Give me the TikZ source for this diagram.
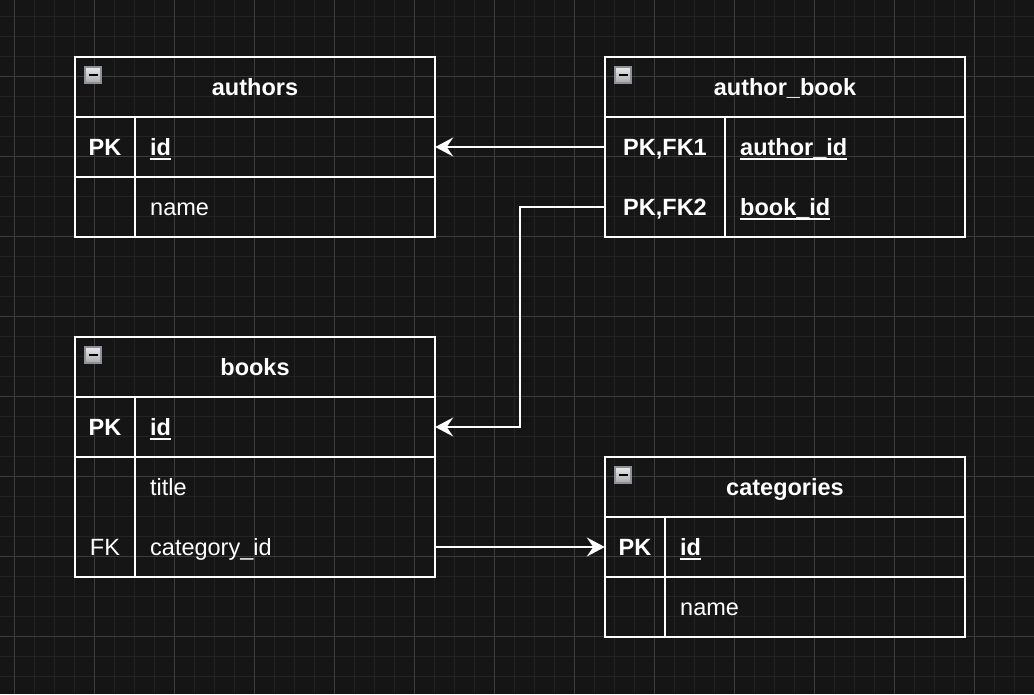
\documentclass[tikz,border=0pt]{standalone}
\usepackage{fontspec}
\setmainfont{Liberation Sans}
\usetikzlibrary{arrows.meta}
\definecolor{bg}{HTML}{151515}
\definecolor{gridminor}{HTML}{232323}
\definecolor{gridmajor}{HTML}{3C3C3C}
\definecolor{iconedge}{HTML}{8A909C}
\definecolor{icontop}{HTML}{EAEAEA}
\definecolor{iconbot}{HTML}{A8A8A8}
\newcommand{\ulx}[1]{\setbox0\hbox{#1}\rlap{\rule[-4.5pt]{\wd0}{2pt}}\box0}
\tikzset{
  ln/.style={white, line width=2pt},
  tbl/.style={draw=white, line width=2pt, rectangle, inner sep=0pt},
  rowbox/.style={rectangle, inner sep=0pt, minimum height=60pt, minimum width=360pt, draw=none},
  txt/.style={text=white, inner sep=0pt, font=\fontsize{23.5}{28}\selectfont},
  hd/.style={txt, anchor=base, font=\fontsize{23.5}{28}\selectfont\bfseries},
  keyb/.style={txt, anchor=base, font=\fontsize{23.5}{28}\selectfont\bfseries},
  keyr/.style={txt, anchor=base},
  fldb/.style={txt, anchor=base west, font=\fontsize{23.5}{28}\selectfont\bfseries},
  fldr/.style={txt, anchor=base west},
  icon/.style={rectangle, minimum size=16pt, inner sep=0pt, draw=iconedge, line width=1.5pt,
    top color=icontop, bottom color=iconbot,
    path picture={\draw[black, line width=2pt] ([xshift=-4.5pt]path picture bounding box.center) -- ([xshift=4.5pt]path picture bounding box.center);}},
  conn/.style={white, line width=2pt, -{Stealth[length=18pt, width=19pt, inset=6.5pt]}}
}
\begin{document}
\begin{tikzpicture}[x=1pt, y=-1pt]
\fill[bg] (0,0) rectangle (1034,694);
\useasboundingbox (0,0) rectangle (1034,694);
% grid
\foreach \x in {14,34,...,1034} \draw[gridminor, line width=1pt] (\x,0) -- (\x,694);
\foreach \y in {16,36,...,694} \draw[gridminor, line width=1pt] (0,\y) -- (1034,\y);
\foreach \x in {14,94,...,1034} \draw[gridmajor, line width=1pt] (\x,0) -- (\x,694);
\foreach \y in {76,156,...,694} \draw[gridmajor, line width=1pt] (0,\y) -- (1034,\y);

% ---------- authors ----------
\node[tbl, minimum width=360pt, minimum height=180pt] (au) at (255,147) {};
\node[rowbox] (au1) at (255,147) {};
\node[rowbox] (au2) at (255,207) {};
\draw[ln] (75,117) -- (435,117);
\draw[ln] (75,177) -- (435,177);
\draw[ln] (135,117) -- (135,237);
\node[icon] (aui) at (93,75) {};
\node[hd] (aut) at (255,95) {authors};
\node[keyb] (au1k) at (105,155) {PK};
\node[fldb] (au1f) at (150,155) {\ulx{id}};
\node[fldr] (au2f) at (150,215) {name};

% ---------- author_book ----------
\node[tbl, minimum width=360pt, minimum height=180pt] (ab) at (785,147) {};
\node[rowbox] (ab1) at (785,147) {};
\node[rowbox] (ab2) at (785,207) {};
\draw[ln] (605,117) -- (965,117);
\draw[ln] (725,117) -- (725,237);
\node[icon] (abi) at (623,75) {};
\node[hd] (abt) at (785,95) {author\_book};
\node[keyb] (ab1k) at (665,155) {PK,FK1};
\node[fldb] (ab1f) at (740,155) {\ulx{author\_id}};
\node[keyb] (ab2k) at (665,215) {PK,FK2};
\node[fldb] (ab2f) at (740,215) {\ulx{book\_id}};

% ---------- books ----------
\node[tbl, minimum width=360pt, minimum height=240pt] (bk) at (255,457) {};
\node[rowbox] (bk1) at (255,427) {};
\node[rowbox] (bk2) at (255,487) {};
\node[rowbox] (bk3) at (255,547) {};
\draw[ln] (75,397) -- (435,397);
\draw[ln] (75,457) -- (435,457);
\draw[ln] (135,397) -- (135,577);
\node[icon] (bki) at (93,355) {};
\node[hd] (bkt) at (255,375) {books};
\node[keyb] (bk1k) at (105,435) {PK};
\node[fldb] (bk1f) at (150,435) {\ulx{id}};
\node[fldr] (bk2f) at (150,495) {title};
\node[keyr] (bk3k) at (105,555) {FK};
\node[fldr] (bk3f) at (150,555) {category\_id};

% ---------- categories ----------
\node[tbl, minimum width=360pt, minimum height=180pt] (ct) at (785,547) {};
\node[rowbox] (ct1) at (785,547) {};
\node[rowbox] (ct2) at (785,607) {};
\draw[ln] (605,517) -- (965,517);
\draw[ln] (605,577) -- (965,577);
\draw[ln] (665,517) -- (665,637);
\node[icon] (cti) at (623,475) {};
\node[hd] (ctt) at (785,495) {categories};
\node[keyb] (ct1k) at (635,555) {PK};
\node[fldb] (ct1f) at (680,555) {\ulx{id}};
\node[fldr] (ct2f) at (680,615) {name};

% ---------- connectors ----------
\coordinate (bend) at (520,207);
\draw[conn] (ab1.west) -- (au1.east);
\draw[conn] (ab2.west) -- (bend) |- (bk1.east);
\draw[conn] (bk3.east) -- (ct1.west);
\end{tikzpicture}
\end{document}
